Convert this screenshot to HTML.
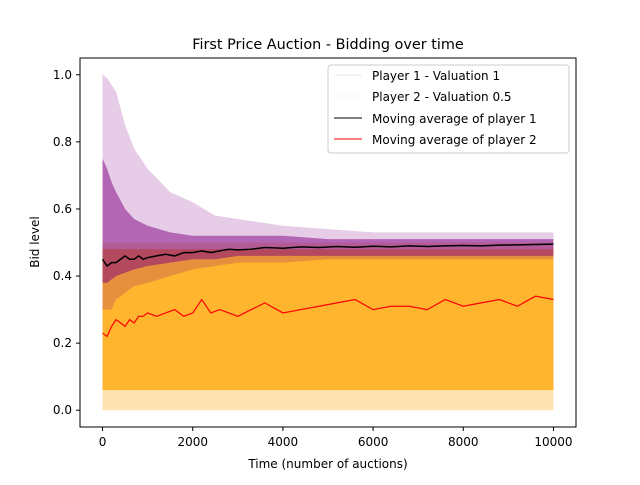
<!DOCTYPE html>
<html><head><meta charset="utf-8"><style>
body{margin:0;background:#fff;}
svg text{font-family:"DejaVu Sans","Liberation Sans",sans-serif;}
</style></head><body>
<svg id="chart" width="640" height="480" viewBox="0 0 640 480">
<rect width="640" height="480" fill="#fff"/>
<g id="plot"></g>
<rect x="80" y="58" width="496" height="369" fill="none" stroke="#000" stroke-width="1"/>
<g id="ticks"></g>
<text x="328" y="49" font-size="14.4" text-anchor="middle">First Price Auction - Bidding over time</text>
<text x="328" y="468" font-size="12" text-anchor="middle">Time (number of auctions)</text>
<text x="39" y="242" font-size="12" text-anchor="middle" transform="rotate(-90 39 242)">Bid level</text>
<g>
<rect x="328" y="65" width="241" height="88" rx="3" fill="#fff" fill-opacity="0.8" stroke="#ccc"/>
<line x1="334" y1="75" x2="362" y2="75" stroke="#800080" stroke-opacity="0.1"/>
<text x="372" y="80" font-size="12">Player 1  - Valuation 1</text>
<line x1="334" y1="96" x2="362" y2="96" stroke="#ffa500" stroke-opacity="0.1"/>
<text x="372" y="101" font-size="12">Player 2 - Valuation 0.5</text>
<line x1="334" y1="118" x2="362" y2="118" stroke="#000"/>
<text x="372" y="123" font-size="12">Moving average of player 1</text>
<line x1="334" y1="139" x2="362" y2="139" stroke="#ff0000"/>
<text x="372" y="144" font-size="12">Moving average of player 2</text>
</g>
</svg>
<script>
const envT = [0,100,200,300,500,700,1000,1500,2000,2500,3000,4000,5000,6000,7000,8000,9000,10000];
const p1Upper = [1.0,0.99,0.97,0.95,0.85,0.78,0.72,0.65,0.62,0.58,0.57,0.55,0.54,0.53,0.53,0.53,0.53,0.53];
const p1Lower = [0.3,0.3,0.3,0.33,0.35,0.37,0.38,0.4,0.42,0.43,0.44,0.44,0.45,0.45,0.45,0.45,0.45,0.45];
const p1DenseUpper = [0.75,0.72,0.68,0.65,0.6,0.57,0.55,0.53,0.52,0.52,0.52,0.52,0.51,0.51,0.51,0.51,0.51,0.51];
const p1DenseLower = [0.38,0.38,0.39,0.40,0.41,0.42,0.43,0.44,0.45,0.45,0.46,0.46,0.46,0.46,0.46,0.46,0.46,0.46];
const p2Upper = [0.5,0.5,0.5,0.5,0.5,0.5,0.5,0.5,0.5,0.5,0.5,0.5,0.5,0.5,0.5,0.5,0.5,0.5];
const p2Lower = [0.0,0.0,0.0,0.0,0.0,0.0,0.0,0.0,0.0,0.0,0.0,0.0,0.0,0.0,0.0,0.0,0.0,0.0];
const p2DenseUpper = [0.48,0.48,0.48,0.48,0.48,0.48,0.48,0.48,0.48,0.48,0.48,0.48,0.48,0.48,0.48,0.48,0.48,0.48];
const p2DenseLower = [0.06,0.06,0.06,0.06,0.06,0.06,0.06,0.06,0.06,0.06,0.06,0.06,0.06,0.06,0.06,0.06,0.06,0.06];
const maT = [0,100,200,300,400,500,600,700,800,900,1000,1200,1400,1600,1800,2000,2200,2400,2600,2800,3000,3300,3600,4000,4400,4800,5200,5600,6000,6400,6800,7200,7600,8000,8400,8800,9200,9600,10000];
const ma1 = [0.45,0.43,0.44,0.44,0.45,0.46,0.45,0.45,0.46,0.45,0.455,0.46,0.465,0.46,0.47,0.47,0.475,0.47,0.475,0.48,0.478,0.48,0.485,0.483,0.487,0.485,0.488,0.486,0.489,0.487,0.49,0.488,0.49,0.491,0.49,0.492,0.493,0.494,0.495];
const ma2 = [0.23,0.22,0.25,0.27,0.26,0.25,0.27,0.26,0.28,0.28,0.29,0.28,0.29,0.30,0.28,0.29,0.33,0.29,0.30,0.29,0.28,0.30,0.32,0.29,0.30,0.31,0.32,0.33,0.30,0.31,0.31,0.30,0.33,0.31,0.32,0.33,0.31,0.34,0.33];
const xTicks = [0,2000,4000,6000,8000,10000];
const yTicks = [0.0,0.2,0.4,0.6,0.8,1.0];

const X = v => 80 + (v + 500) / 11000 * 496;
const Y = v => 427 - (v + 0.05) / 1.1 * 369;
const NS = "http://www.w3.org/2000/svg";
const plot = document.getElementById('plot');
function band(up, lo, fill, op, name){
  const p = document.createElementNS(NS,'polygon');
  const pts = envT.map((t,i)=>X(t)+','+Y(up[i])).concat(envT.map((t,i)=>X(t)+','+Y(lo[i])).reverse());
  p.setAttribute('points', pts.join(' '));
  p.setAttribute('fill', fill); p.setAttribute('fill-opacity', op);
  
  
  plot.appendChild(p);
}
band(p2Upper, p2Lower, '#ffa500', 0.3, 'player2-bids-light');
band(p2DenseUpper, p2DenseLower, '#ffa500', 0.75, 'player2-bids-dense');
band(p1Upper, p1Lower, '#800080', 0.2, 'player1-bids-light');
band(p1DenseUpper, p1DenseLower, '#800080', 0.5, 'player1-bids-dense');
function line(vals, color, w, name){
  const p = document.createElementNS(NS,'polyline');
  p.setAttribute('points', maT.map((t,i)=>X(t)+','+Y(vals[i])).join(' '));
  p.setAttribute('fill','none'); p.setAttribute('stroke',color); p.setAttribute('stroke-width',w);
  
  
  plot.appendChild(p);
}
line(ma1,'#000',1.5,'moving-average-player1');
line(ma2,'#ff0000',1.2,'moving-average-player2');
const tk = document.getElementById('ticks');
xTicks.forEach(v=>{
  const l=document.createElementNS(NS,'line');
  l.setAttribute('x1',X(v));l.setAttribute('x2',X(v));l.setAttribute('y1',427);l.setAttribute('y2',431);l.setAttribute('stroke','#000');
  
  
  tk.appendChild(l);
  const t=document.createElementNS(NS,'text');
  t.setAttribute('x',X(v));t.setAttribute('y',446);t.setAttribute('font-size','12');t.setAttribute('text-anchor','middle');
  t.textContent=v;
  
  
  tk.appendChild(t);
});
yTicks.forEach(v=>{
  const l=document.createElementNS(NS,'line');
  l.setAttribute('x1',76);l.setAttribute('x2',80);l.setAttribute('y1',Y(v));l.setAttribute('y2',Y(v));l.setAttribute('stroke','#000');
  
  
  tk.appendChild(l);
  const t=document.createElementNS(NS,'text');
  t.setAttribute('x',72);t.setAttribute('y',Y(v)+4);t.setAttribute('font-size','12');t.setAttribute('text-anchor','end');
  t.textContent=v.toFixed(1);
  
  
  tk.appendChild(t);
});
</script>
</body></html>
